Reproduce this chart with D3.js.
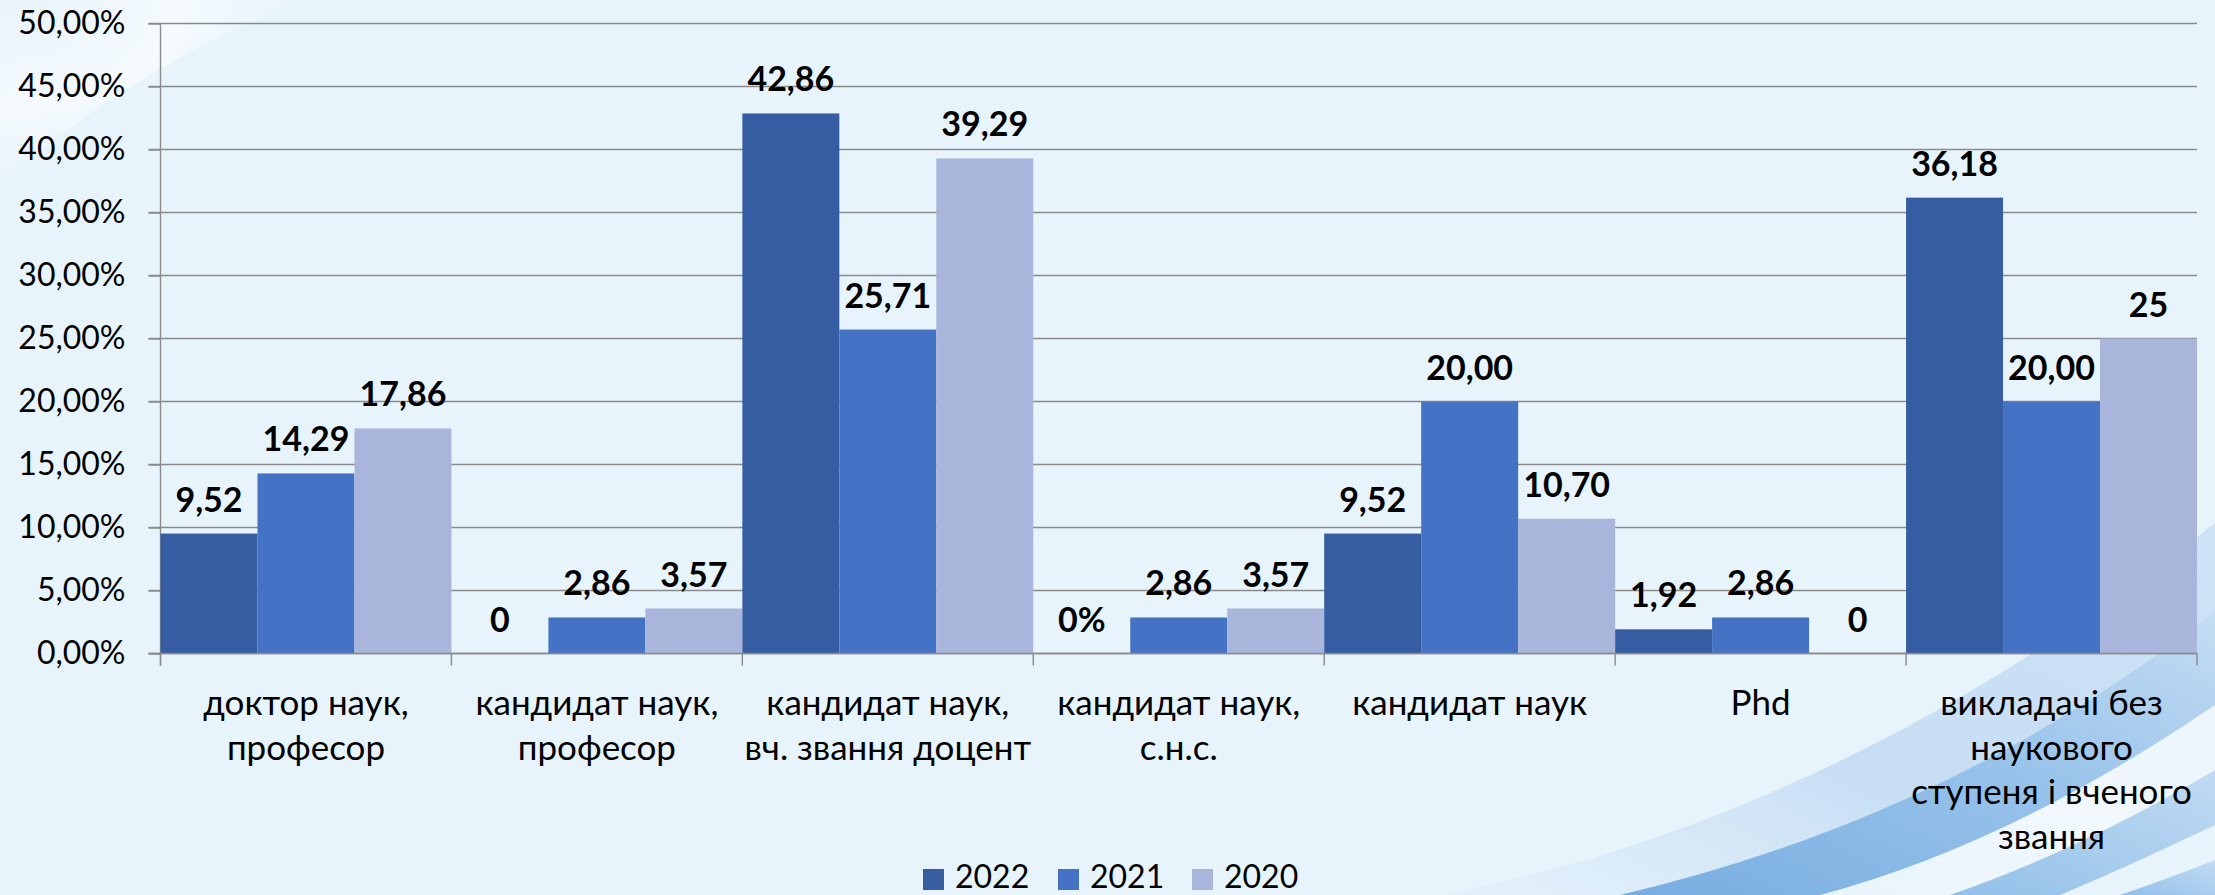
<!DOCTYPE html>
<html>
<head>
<meta charset="utf-8">
<script src="https://cdn.jsdelivr.net/npm/d3@7"></script>
<style>
  html, body { margin: 0; padding: 0; background: #E8F4FC; }
  svg { display: block; }
  text { font-family: Lato, "Open Sans", sans-serif; fill: #000; }
</style>
</head>
<body>
<script>
// ---------- data ----------
const categories = [
  "доктор наук,|професор",
  "кандидат наук,|професор",
  "кандидат наук,|вч. звання доцент",
  "кандидат наук,|с.н.с.",
  "кандидат наук",
  "Phd",
  "викладачі без|наукового|ступеня і вченого|звання"
];
const seriesNames = ["2022", "2021", "2020"];
const values2022 = [9.52, 0, 42.86, 0, 9.52, 1.92, 36.18];
const values2021 = [14.29, 2.86, 25.71, 2.86, 20.00, 2.86, 20.00];
const values2020 = [17.86, 3.57, 39.29, 3.57, 10.70, 0, 25];
const labels2022 = ["9,52", "0", "42,86", "0%", "9,52", "1,92", "36,18"];
const labels2021 = ["14,29", "2,86", "25,71", "2,86", "20,00", "2,86", "20,00"];
const labels2020 = ["17,86", "3,57", "39,29", "3,57", "10,70", "0", "25"];
const yTicks = [0, 5, 10, 15, 20, 25, 30, 35, 40, 45, 50];
const colors = ["#365DA1", "#4472C4", "#A9B5DA"];

const seriesValues = [values2022, values2021, values2020];
const seriesLabels = [labels2022, labels2021, labels2020];

// ---------- layout ----------
const W = 2215, H = 895;
const svg = d3.select("body").append("svg").attr("width", W).attr("height", H);

// background
svg.append("rect").attr("width", W).attr("height", H).attr("fill", "#E8F4FC");
const defs = svg.append("defs");
function lin(id, stops) {
  const g = defs.append("linearGradient").attr("id", id)
    .attr("x1", "0").attr("y1", "1").attr("x2", "1").attr("y2", "0");
  stops.forEach(s => g.append("stop").attr("offset", s[0]).attr("stop-color", s[1]).attr("stop-opacity", s[2]));
}
lin("sw1", [[0, "#d6e8f7", 0.3], [0.45, "#c4dcf3", 0.95], [1, "#cfe3f6", 1]]);
lin("sw2", [[0, "#78ade0", 1], [0.55, "#93c0e9", 0.95], [1, "#c2dbf2", 0.9]]);
lin("sw3", [[0, "#8dbde8", 0.95], [1, "#b9d6f1", 0.85]]);
lin("sw4", [[0, "#f4f9fe", 0.0], [0.5, "#f4f9fe", 0.7], [1, "#f4f9fe", 0.4]]);
const g4 = defs.append("radialGradient").attr("id", "tl").attr("cx", "0").attr("cy", "0").attr("r", "1");
g4.append("stop").attr("offset", "0").attr("stop-color", "#ffffff").attr("stop-opacity", 0.0);
g4.append("stop").attr("offset", "0.6").attr("stop-color", "#ffffff").attr("stop-opacity", 0.55);
g4.append("stop").attr("offset", "1").attr("stop-color", "#ffffff").attr("stop-opacity", 0.0);

const deco = svg.append("g");
deco.append("path").attr("d", "M0,0 L300,0 Q150,60 0,180 Z").attr("fill", "url(#tl)");
// pale wide band
deco.append("path").attr("d", "M1441,895 Q1844,817 2215,523 L2215,610 Q1930,835 1620,895 Z").attr("fill", "url(#sw1)");
// main saturated band
deco.append("path").attr("d", "M1620,895 Q1960,815 2215,610 L2215,705 Q2010,845 1820,895 Z").attr("fill", "url(#sw2)");
// whitish gap
deco.append("path").attr("d", "M1820,895 Q2010,845 2215,705 L2215,770 Q2080,850 1950,895 Z").attr("fill", "url(#sw4)");
// lower band
deco.append("path").attr("d", "M1950,895 Q2080,850 2215,770 L2215,825 Q2120,870 2060,895 Z").attr("fill", "url(#sw3)");
deco.append("path").attr("d", "M2120,895 Q2170,878 2215,860 L2215,895 Z").attr("fill", "url(#sw3)");

const x0 = 160.5, x1 = 2197;
const yTop = 23.5, yBase = 653.5;

const x = d3.scaleBand().domain(d3.range(categories.length)).range([x0, x1]).paddingInner(0).paddingOuter(0);
const xs = d3.scaleBand().domain(d3.range(seriesNames.length)).range([0, x.bandwidth()]).padding(0);
const y = d3.scaleLinear().domain([0, 50]).range([yBase, yTop]);

const gridColor = "#8a8a8a";
const FS = 32;

// gridlines
svg.append("g").selectAll("line").data(yTicks).join("line")
  .attr("x1", x0 - 12).attr("x2", x1)
  .attr("y1", d => y(d)).attr("y2", d => y(d))
  .attr("stroke", gridColor).attr("stroke-width", 1.4);

// y axis
const yAxis = d3.axisLeft(y).tickValues(yTicks).tickSize(12).tickPadding(23)
  .tickFormat(d => d.toFixed(2).replace(".", ",") + "%");
const ya = svg.append("g").attr("transform", `translate(${x0},0)`).call(yAxis);
ya.select(".domain").remove();
ya.selectAll(".tick line").attr("stroke", gridColor).attr("stroke-width", 1.4);
ya.selectAll(".tick text").attr("font-size", FS).attr("font-family", "Lato, 'Open Sans', sans-serif").attr("fill", "#000");
svg.append("line").attr("x1", x0).attr("x2", x0).attr("y1", yTop).attr("y2", yBase + 12)
  .attr("stroke", gridColor).attr("stroke-width", 1.4);

// bars
const groups = svg.append("g").selectAll("g").data(categories.map((c, i) => i)).join("g")
  .attr("transform", i => `translate(${x(i)},0)`);
groups.selectAll("rect").data(i => seriesValues.map((s, k) => ({k, v: s[i]})).filter(d => d.v > 0)).join("rect")
  .attr("x", d => xs(d.k)).attr("width", xs.bandwidth())
  .attr("y", d => y(d.v)).attr("height", d => yBase - y(d.v))
  .attr("fill", d => colors[d.k]);

// x baseline & ticks
svg.append("line").attr("x1", x0 - 12).attr("x2", x1).attr("y1", yBase).attr("y2", yBase)
  .attr("stroke", gridColor).attr("stroke-width", 1.6);
const bounds = d3.range(categories.length + 1).map(i => i < categories.length ? x(i) : x(i - 1) + x.bandwidth());
svg.append("g").selectAll("line").data(bounds).join("line")
  .attr("x1", d => d).attr("x2", d => d).attr("y1", yBase).attr("y2", yBase + 12)
  .attr("stroke", gridColor).attr("stroke-width", 1.4);

// data labels
groups.selectAll("text.lbl").data(i => seriesValues.map((s, k) => ({k, v: s[i], t: seriesLabels[k][i]}))).join("text")
  .attr("class", "lbl")
  .attr("x", d => xs(d.k) + xs.bandwidth() / 2)
  .attr("y", d => y(d.v) - 22)
  .attr("text-anchor", "middle")
  .attr("font-size", 34).attr("font-weight", "bold")
  .text(d => d.t);

// category labels
const catG = svg.append("g").selectAll("text").data(categories).join("text")
  .attr("x", (c, i) => x(i) + x.bandwidth() / 2)
  .attr("y", 715)
  .attr("text-anchor", "middle")
  .attr("font-size", 35);
catG.selectAll("tspan").data(c => c.split("|")).join("tspan")
  .attr("x", function() { return this.parentNode.getAttribute("x"); })
  .attr("dy", (d, j) => j === 0 ? 0 : 44.5)
  .text(d => d);

// legend
const legX = [923, 1058, 1192];
const leg = svg.append("g").selectAll("g").data(seriesNames).join("g")
  .attr("transform", (d, i) => `translate(${legX[i]},869)`);
leg.append("rect").attr("width", 21).attr("height", 21).attr("fill", (d, i) => colors[i]);
leg.append("text").attr("x", 32).attr("y", 19).attr("font-size", FS).text(d => d);
</script>
</body>
</html>
